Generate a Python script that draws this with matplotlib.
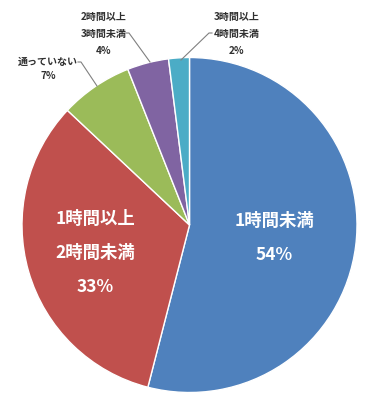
import matplotlib
matplotlib.use("Agg")
import matplotlib.pyplot as plt

plt.rcParams['font.family'] = ['Noto Sans CJK JP', 'DejaVu Sans']

# data
labels = ["1時間未満", "1時間以上\n2時間未満", "通っていない", "2時間以上\n3時間未満", "3時間以上\n4時間未満"]
values = [54, 33, 7, 4, 2]
colors = ["#4F81BD", "#C0504D", "#9BBB59", "#8064A2", "#4BACC6"]

W, H = 377, 400
R = 167.5          # radius in px
cx, cy = 189.5, 225  # centre in px (from top)

fig = plt.figure(figsize=(W / 100, H / 100), dpi=100)
ax = fig.add_axes([0, 0, 1, 1])
ax.axis("off")

wedges, _ = ax.pie(values, colors=colors, startangle=90, counterclock=False,
                   radius=1, wedgeprops=dict(edgecolor="white", linewidth=1))
ax.set_xlim(-cx / R, (W - cx) / R)
ax.set_ylim(-(H - cy) / R, cy / R)
ax.set_aspect("auto")


def px(x, y):
    # pixel coords (from top-left) -> data coords
    return (x - cx) / R, (cy - y) / R


# inside labels
big = dict(color="white", fontsize=12.5, fontweight="bold", ha="center", va="center",
           linespacing=2.15)
ax.text(*px(274, 238), labels[0] + "\n" + f"{values[0]}%", **big)
ax.text(*px(95, 253), labels[1] + "\n" + f"{values[1]}%", **big)

# outside labels with leader lines
small = dict(color="#303030", fontsize=7.2, fontweight="bold", ha="center", va="center")
ax.text(*px(48, 69), labels[2] + "\n" + f"{values[2]}%", linespacing=1.5, **small)
ax.text(*px(104, 34), labels[3] + "\n" + f"{values[3]}%", linespacing=1.9, **small)
ax.text(*px(237, 34), labels[4] + "\n" + f"{values[4]}%", linespacing=1.9, **small)

leaders = [
    [(78, 62), (81, 62), (97, 86)],
    [(126, 33), (129, 33), (150, 62)],
    [(212, 33), (209, 33), (181, 60)],
]
for pts in leaders:
    xs, ys = zip(*[px(x, y) for x, y in pts])
    ax.plot(xs, ys, color="#808080", linewidth=0.8)

fig.savefig("out.png", dpi=100, facecolor="white")
